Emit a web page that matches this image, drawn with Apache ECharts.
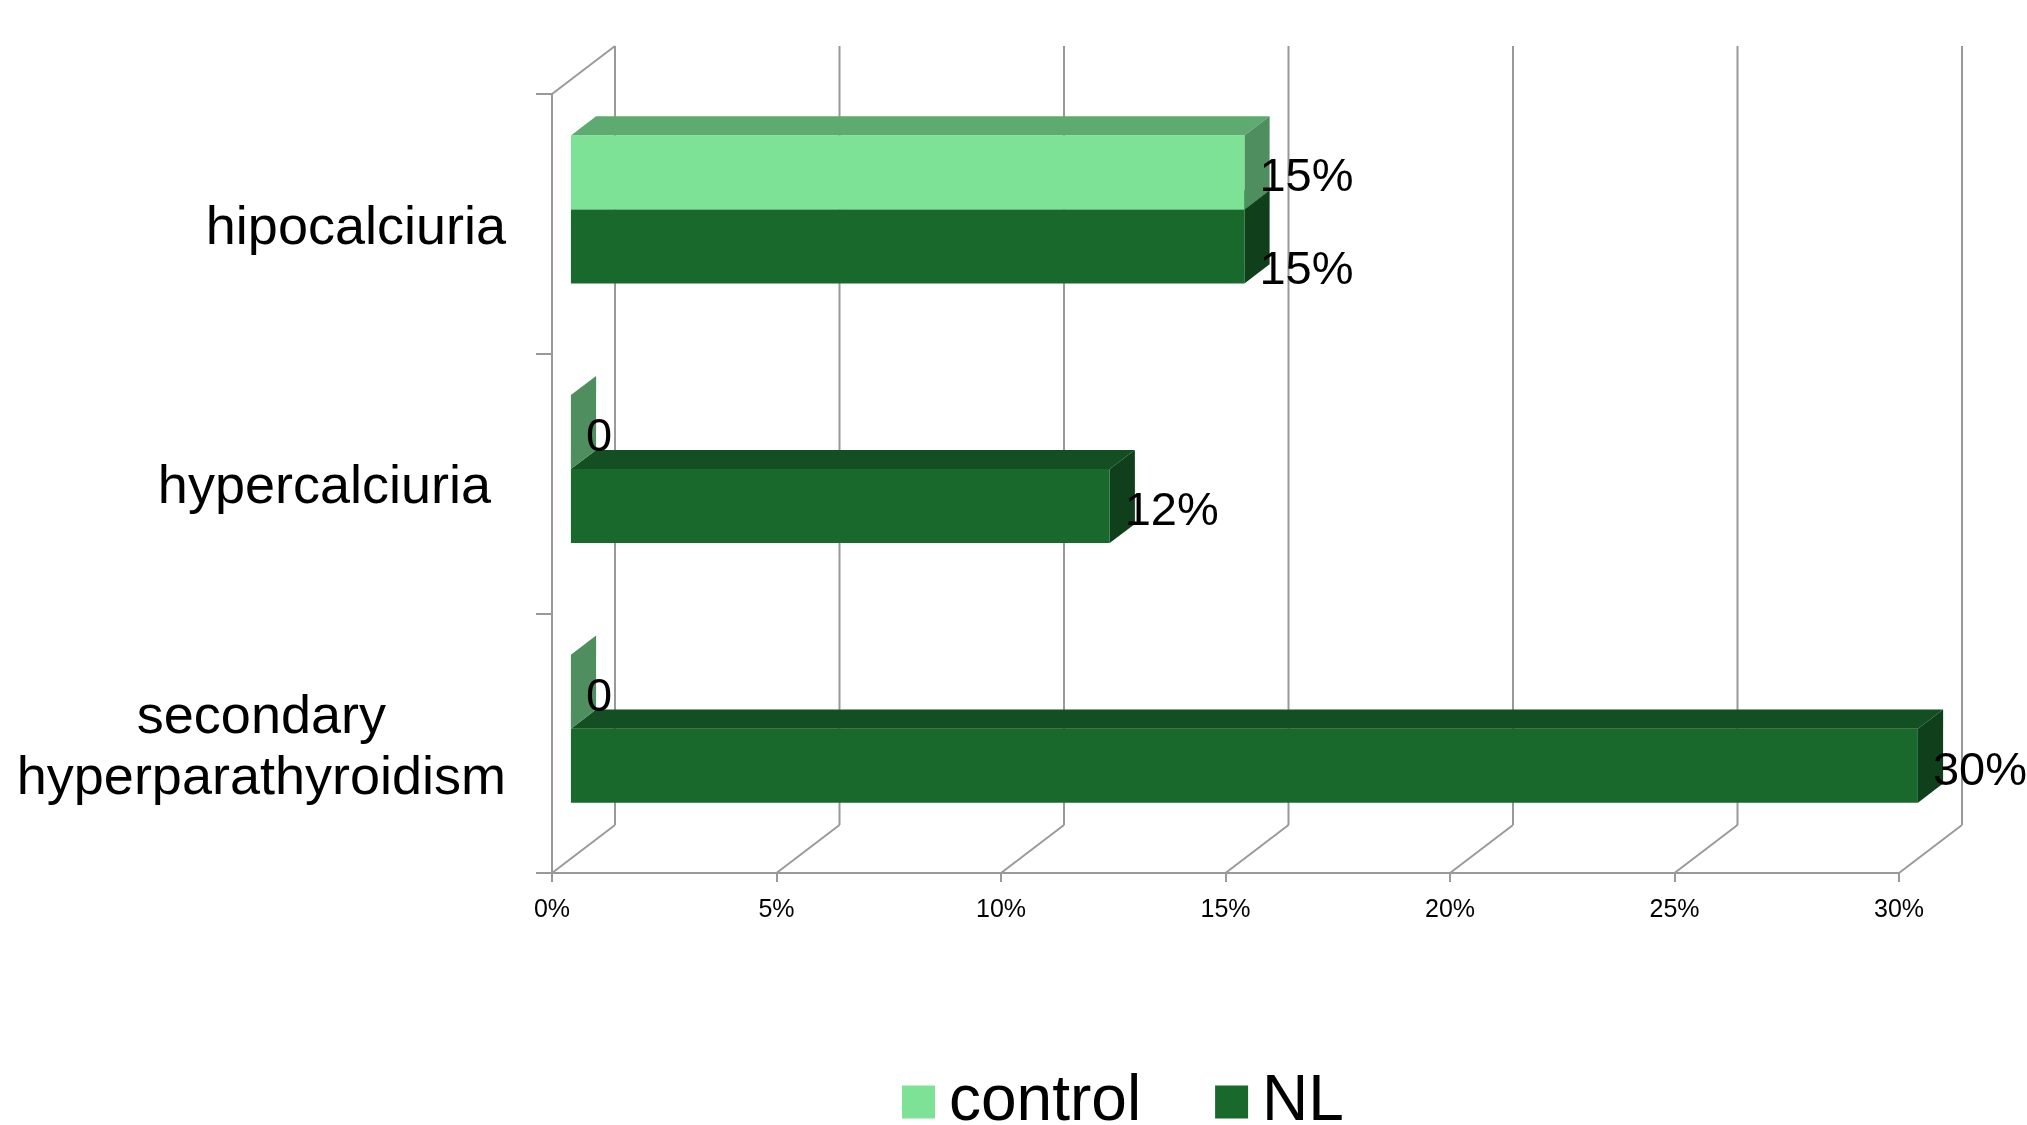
<!DOCTYPE html>
<html>
<head>
<meta charset="utf-8">
<title>Calcium metabolism disorders</title>
<script src="https://cdn.jsdelivr.net/npm/echarts@6/dist/echarts.min.js"></script>
<style>
  html, body { margin: 0; padding: 0; background: #fff; }
  #chart { width: 2027px; height: 1125px; }
</style>
</head>
<body>
<div id="chart"></div>
<script>
// ---- data ----
const categories = ['hipocalciuria', 'hypercalciuria ', 'secondary\nhyperparathyroidism'];
const seriesNames = ['control', 'NL'];
const controlValues = [15, 0, 0];   // %
const nlValues = [15, 12, 30];      // %
const xTicks = [0, 5, 10, 15, 20, 25, 30];

// ---- styling constants ----
const FONT = '"Liberation Sans", Arial, Helvetica, sans-serif';
const DX = 63, DY = -48;          // depth of the 3D box in pixels
const FRONT = 0.3, BACK = 0.7;    // bar depth span inside the box
const BAR_FRAC = 0.285;           // bar thickness as a share of the category band
const AXIS_COLOR = '#999999';
const faces = {
  control: { front: '#7EE296', top: '#5DAB70', side: '#4F8F5F' },
  NL:      { front: '#19692D', top: '#134F22', side: '#0F401B' }
};
// small vertical nudges for data labels: [seriesName][categoryIndex]
const labelShift = { NL: { 0: 19 } };

function barRenderer(name, slot) {
  const c = faces[name];
  return function (params, api) {
    const cat = api.value(1);
    const val = api.value(0);
    const band = api.size([0, 1])[1];
    const h = band * BAR_FRAC;
    const origin = api.coord([0, cat]);
    const xr = api.coord([val, cat])[0];
    const w = xr - origin[0];
    const x0 = origin[0] + DX * FRONT;
    const y0 = origin[1] + (slot === 0 ? -h : 0) + DY * FRONT;
    const ddx = DX * (BACK - FRONT), ddy = DY * (BACK - FRONT);
    const shift = (labelShift[name] && labelShift[name][cat]) || 0;
    const text = val === 0 ? '0' : val + '%';
    return {
      type: 'group',
      children: [
        { type: 'polygon', shape: { points: [[x0, y0], [x0 + w, y0], [x0 + w + ddx, y0 + ddy], [x0 + ddx, y0 + ddy]] },
          style: { fill: c.top } },
        { type: 'polygon', shape: { points: [[x0 + w, y0], [x0 + w + ddx, y0 + ddy], [x0 + w + ddx, y0 + h + ddy], [x0 + w, y0 + h]] },
          style: { fill: c.side } },
        { type: 'rect', shape: { x: x0, y: y0, width: w, height: h },
          style: { fill: c.front } },
        { type: 'text', z2: 10,
          style: { x: x0 + w + 15, y: y0 + h / 2 + 6 + shift, text: text,
                   font: '47px ' + FONT, fill: '#000', verticalAlign: 'middle', align: 'left' } }
      ]
    };
  };
}

function wallRenderer(params, api) {
  const cs = params.coordSys;
  const v = api.value(0);
  const x = api.coord([v, 0])[0];
  const yTop = cs.y, yBot = cs.y + cs.height;
  const ls = { stroke: AXIS_COLOR, lineWidth: 2 };
  const children = [
    { type: 'line', shape: { x1: x + DX, y1: yTop + DY, x2: x + DX, y2: yBot + DY }, style: ls },
    { type: 'line', shape: { x1: x, y1: yBot, x2: x + DX, y2: yBot + DY }, style: ls }
  ];
  if (v === xTicks[0]) {
    children.push({ type: 'line', shape: { x1: x, y1: yTop, x2: x + DX, y2: yTop + DY }, style: ls });
  }
  return { type: 'group', children: children };
}

const chart = echarts.init(document.getElementById('chart'), null, { renderer: 'canvas' });

chart.setOption({
  backgroundColor: '#ffffff',
  animation: false,
  textStyle: { fontFamily: FONT },
  grid: { left: 552, right: 128, top: 94, bottom: 252, containLabel: false },
  legend: {
    data: seriesNames,
    left: 897,
    top: 1065,
    icon: 'rect',
    itemWidth: 33,
    itemHeight: 33,
    itemGap: 74,
    textStyle: { fontSize: 64, color: '#000', fontFamily: FONT, lineHeight: 64, padding: [0, 0, 0, 9] }
  },
  xAxis: {
    type: 'value',
    min: 0, max: 30, interval: 5,
    axisLine: { show: true, lineStyle: { color: AXIS_COLOR, width: 2 } },
    axisTick: { show: true, length: 9, lineStyle: { color: AXIS_COLOR, width: 2 } },
    splitLine: { show: false },
    axisLabel: { fontSize: 25, color: '#000', margin: 25, fontFamily: FONT,
                 formatter: v => v + '%' }
  },
  yAxis: {
    type: 'category',
    inverse: true,
    data: categories,
    axisLine: { show: true, lineStyle: { color: AXIS_COLOR, width: 2 } },
    axisTick: { show: true, length: 16, lineStyle: { color: AXIS_COLOR, width: 2 } },
    splitLine: { show: false },
    axisLabel: {
      margin: 46,
      color: '#000',
      padding: [10, 0, 0, 0],
      formatter: v => v.split('\n').map(s => '{c|' + s + '}').join('\n'),
      rich: { c: { fontSize: 54, lineHeight: 61, align: 'center', color: '#000', fontFamily: FONT } }
    }
  },
  series: [
    {
      name: 'wall', type: 'custom', z: 1, silent: true,
      renderItem: wallRenderer,
      encode: { x: 0 },
      data: xTicks.map(v => [v, 0])
    },
    {
      name: 'control', type: 'custom', z: 3,
      itemStyle: { color: faces.control.front },
      renderItem: barRenderer('control', 0),
      encode: { x: 0, y: 1 },
      data: controlValues.map((v, i) => [v, i])
    },
    {
      name: 'NL', type: 'custom', z: 2,
      itemStyle: { color: faces.NL.front },
      renderItem: barRenderer('NL', 1),
      encode: { x: 0, y: 1 },
      data: nlValues.map((v, i) => [v, i])
    }
  ]
});
</script>
</body>
</html>
